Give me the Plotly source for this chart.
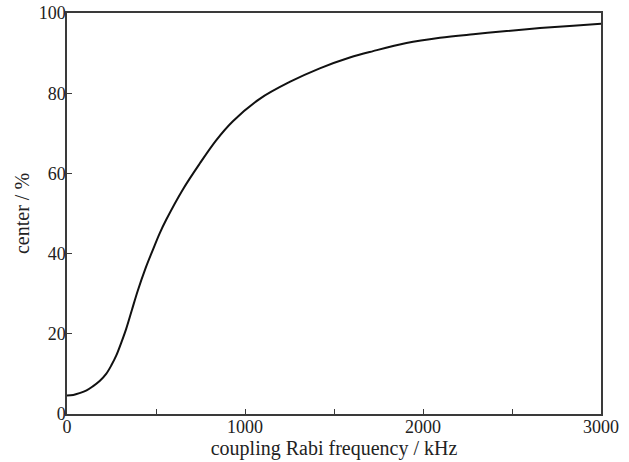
"""
Center population versus coupling Rabi frequency.
"""

import plotly.graph_objects as go

# values
rabi_khz = [0, 35, 70, 110, 145, 185, 220, 250, 277, 305, 333, 365, 398, 440, 483, 520, 558,
            651, 745, 839, 932, 1083, 1251, 1420, 1589, 1720, 1907, 2095, 2282, 2470,
            2657, 2844, 3000]
center_pct = [4.6, 4.75, 5.2, 5.9, 6.9, 8.3, 10.0, 12.2, 14.6, 17.8, 21.3, 26.0, 30.8, 36.2, 41.0,
              45.0, 48.5, 56.0, 62.4, 68.3, 73.0, 78.6, 82.8, 86.2, 88.9, 90.5, 92.5, 93.8,
              94.7, 95.5, 96.25, 96.85, 97.3]

x_ticks = [0, 1000, 2000, 3000]
y_ticks = [0, 20, 40, 60, 80, 100]

axis_color = '#3a3a3a'
font_family = 'Liberation Serif, Times New Roman, serif'

fig = go.Figure()
fig.add_trace(go.Scatter(
    x=rabi_khz,
    y=center_pct,
    mode='lines',
    line=dict(color='#111111', width=2, shape='spline', smoothing=1.0),
    showlegend=False,
))

fig.update_layout(
    width=629,
    height=462,
    margin=dict(l=67, r=28, t=13, b=48),
    paper_bgcolor='white',
    plot_bgcolor='white',
    font=dict(family=font_family, size=17, color='#222222'),
)

fig.update_xaxes(
    range=[0, 3000],
    tickvals=x_ticks,
    tickfont=dict(size=18),
    ticks='inside',
    ticklen=5,
    tickcolor=axis_color,
    ticklabelstandoff=-4,
    ticklabeloverflow='allow',
    minor=dict(ticks='inside', dtick=500, ticklen=5, tickcolor=axis_color),
    showline=True,
    linecolor=axis_color,
    linewidth=1.5,
    mirror=True,
    showgrid=False,
    zeroline=False,
    automargin=False,
    title=dict(text='coupling Rabi frequency / kHz', standoff=0),
)

fig.update_yaxes(
    range=[0, 100],
    tickvals=y_ticks,
    tickfont=dict(size=18),
    ticks='inside',
    ticklen=5,
    tickcolor=axis_color,
    ticklabelstandoff=-4,
    ticklabeloverflow='allow',
    showline=True,
    linecolor=axis_color,
    linewidth=1.5,
    mirror=True,
    showgrid=False,
    zeroline=False,
    automargin=False,
    title=dict(text='center / %', standoff=4),
)

# drop the default 8px page margin so the figure fills the window
fig.write_html(
    "out.html",
    config={'displayModeBar': False},
    post_script="document.body.style.margin = '0';",
)
